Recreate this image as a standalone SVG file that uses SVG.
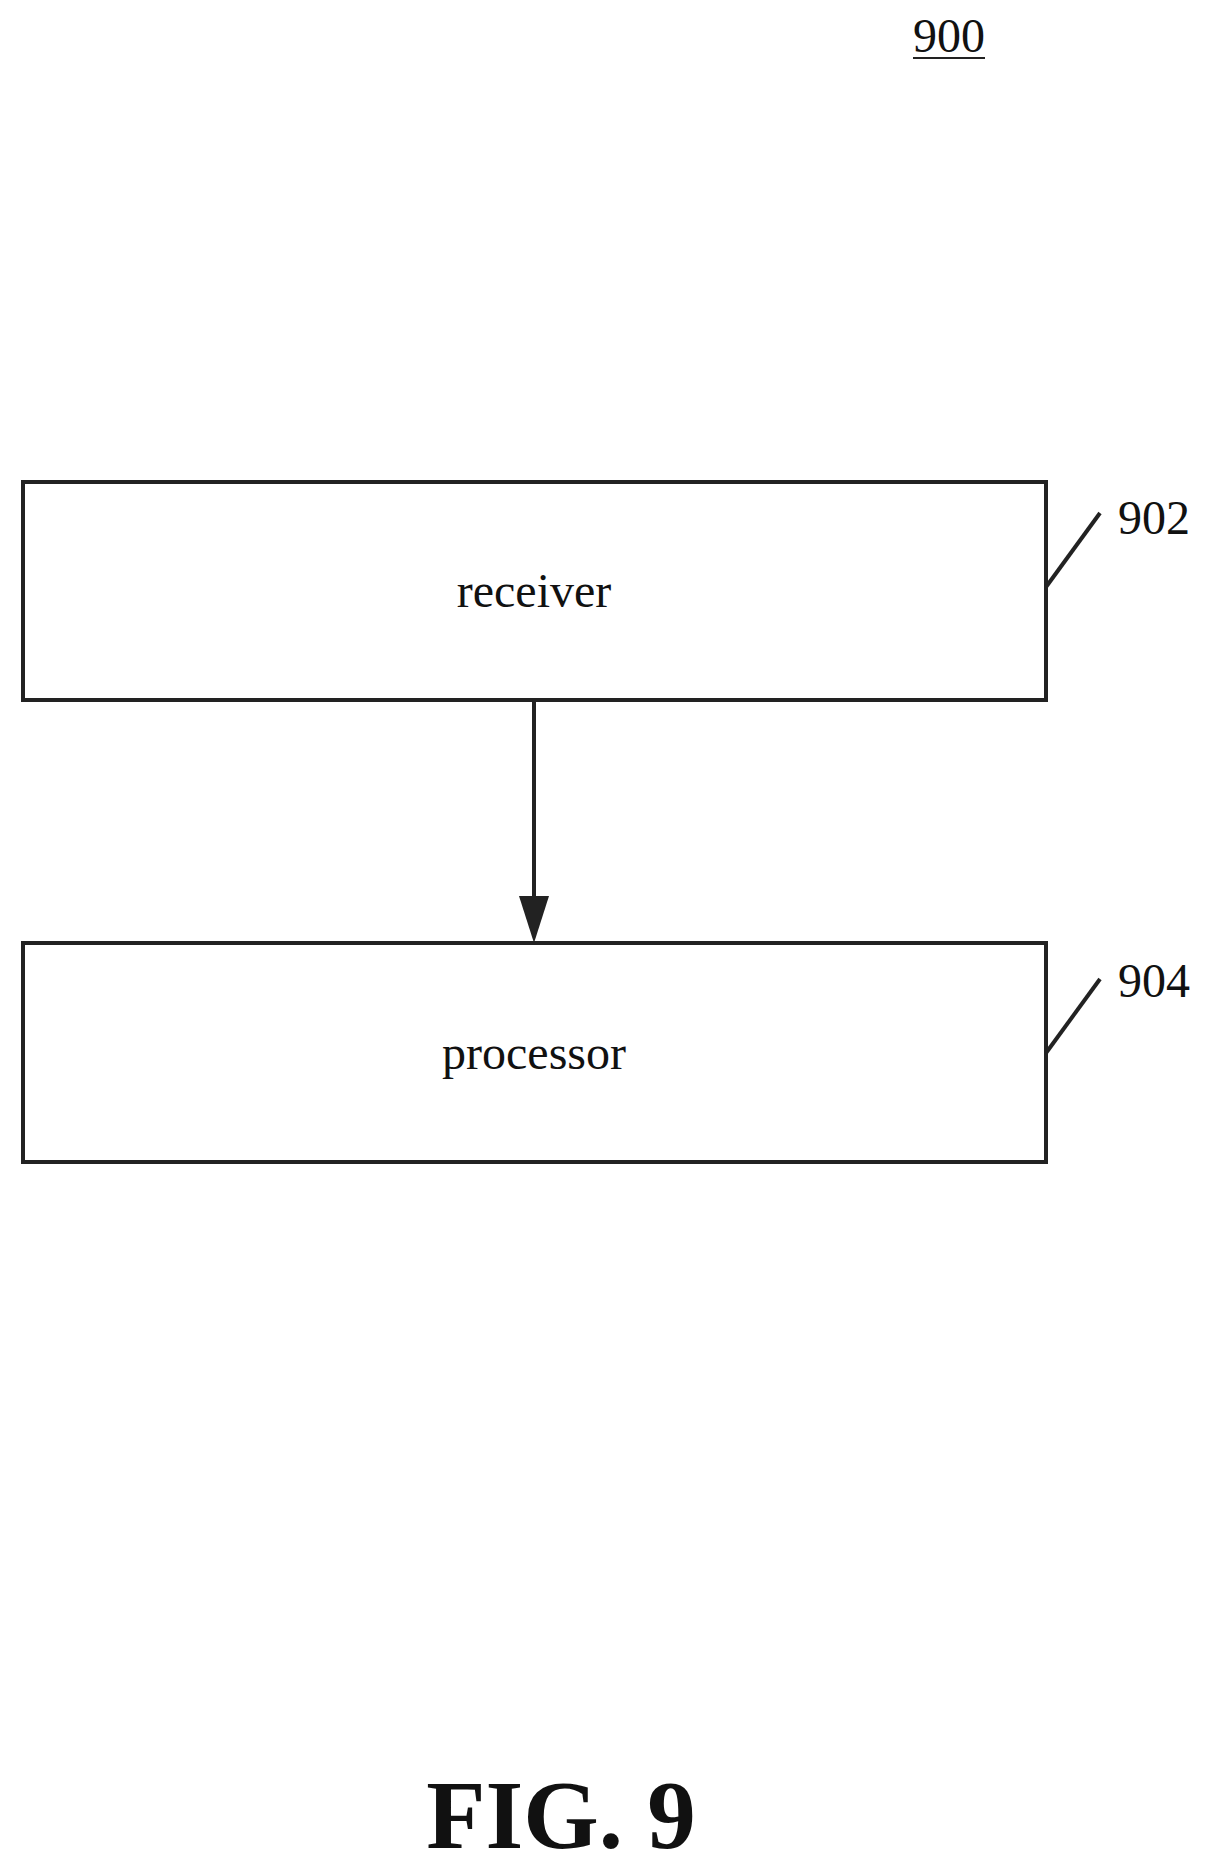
<svg xmlns="http://www.w3.org/2000/svg" width="1209" height="1872" viewBox="0 0 1209 1872">
<defs>
<style>
.box{fill:#fff;stroke:#222;stroke-width:4}
.t{font-family:"Liberation Serif",serif;font-size:48px;fill:#111}
.ln{stroke:#222;stroke-width:4;fill:none}
</style>
</defs>
<rect width="1209" height="1872" fill="#fff"/>
<g id="label900">
<text class="t" x="949" y="52" text-anchor="middle">900</text>
<line x1="913" y1="58" x2="985" y2="58" stroke="#222" stroke-width="2"/>
</g>
<g id="n902">
<rect class="box" x="23" y="482" width="1023" height="218"/>
<text class="t" x="534" y="607" text-anchor="middle">receiver</text>
<line class="ln" x1="1046" y1="587" x2="1100" y2="513"/>
<text class="t" x="1118" y="534">902</text>
</g>
<g id="n904">
<rect class="box" x="23" y="943" width="1023" height="219"/>
<text class="t" x="534" y="1069" text-anchor="middle">processor</text>
<line class="ln" x1="1046" y1="1053" x2="1100" y2="979"/>
<text class="t" x="1118" y="997">904</text>
</g>
<g id="connectors">
<line class="ln" x1="534" y1="700" x2="534" y2="900"/>
<polygon points="519,896 549,896 534,943" fill="#222"/>
</g>
<text x="561" y="1848" text-anchor="middle" font-family="Liberation Serif,serif" font-weight="bold" font-size="97" fill="#111">FIG. 9</text>
</svg>
